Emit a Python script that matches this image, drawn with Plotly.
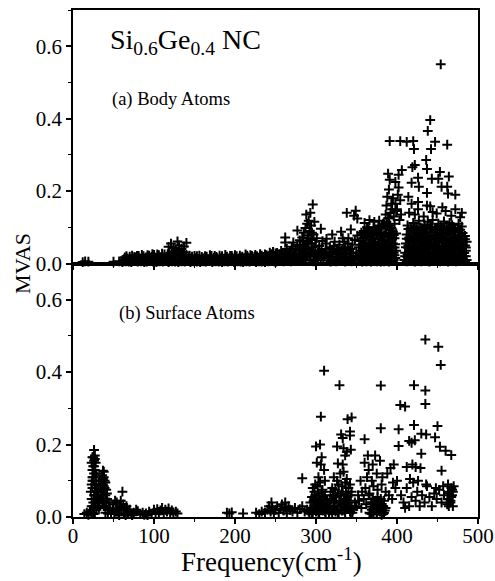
import plotly.graph_objects as go

# ---------------- Body atoms (panel a) ----------------
body_sparse_freq = [12, 15, 19, 50, 57]
body_sparse_mvas = [0.004, 0.006, 0.005, 0.005, 0.006]

body_band_lo_freq = [61, 65, 69, 72, 76, 80, 84, 88, 91, 95,
                     99, 103, 107, 111, 114, 118, 122, 126, 130, 134,
                     138, 141, 145, 149, 153, 157, 161, 164, 168, 172,
                     176, 180, 184, 187, 191, 195, 199, 203, 207, 210,
                     214, 218, 222, 226, 230, 233, 237, 241, 245, 249]
body_band_lo_mvas = [.004, .006, .005, .004, .007, .005, .006, .004, .005, .007,
                     .005, .004, .006, .005, .007, .004, .006, .005, .004, .006,
                     .005, .007, .004, .006, .005, .004, .006, .005, .007, .004,
                     .006, .005, .004, .006, .005, .007, .004, .006, .005, .004,
                     .006, .005, .007, .004, .006, .005, .004, .006, .007, .005]

body_band_x1_freq = [62, 66, 70, 74, 78, 82, 86, 90, 94, 98,
                     102, 106, 110, 114, 118, 122, 126, 130, 134, 138,
                     142, 146, 150, 154, 158, 162, 166, 170, 174, 178,
                     182, 186, 190, 194, 198, 202, 206, 210, 214, 218,
                     222, 226, 230, 234, 238, 242, 246, 250]
body_band_x1_mvas = [.010, .009, .011, .010, .012, .009, .010, .011, .012, .010,
                     .011, .012, .010, .011, .012, .013, .011, .012, .010, .011,
                     .010, .009, .011, .010, .009, .011, .010, .012, .009, .011,
                     .010, .012, .009, .011, .010, .012, .011, .009, .010, .012,
                     .011, .010, .012, .011, .013, .012, .014, .013]

body_band_mid_freq = [63, 67, 71, 74, 78, 82, 86, 90, 93, 97,
                      101, 105, 109, 112, 116, 120, 124, 128, 132, 136,
                      139, 143, 147, 151, 155, 159, 162, 166, 170, 174,
                      178, 182, 185, 189, 193, 197, 201, 205, 208, 212,
                      216, 220, 224, 228, 231, 235, 239, 243, 247, 251]
body_band_mid_mvas = [.012, .014, .013, .015, .016, .014, .015, .017, .016, .018,
                      .017, .016, .018, .017, .019, .020, .022, .024, .026, .022,
                      .018, .015, .014, .015, .013, .014, .015, .013, .014, .016,
                      .015, .014, .013, .015, .014, .016, .015, .014, .016, .015,
                      .017, .016, .018, .017, .019, .018, .020, .022, .021, .024]

body_band_x2_freq = [64, 70, 76, 81, 87, 94, 100, 106, 113, 119,
                     133, 140, 147, 153, 159, 165, 171, 177, 184, 190,
                     196, 202, 209, 215, 221, 227, 233, 239, 245, 250]
body_band_x2_mvas = [.017, .019, .018, .021, .020, .022, .024, .023, .025, .027,
                     .028, .024, .019, .020, .018, .019, .021, .018, .020, .019,
                     .021, .020, .019, .022, .021, .020, .022, .023, .026, .028]

body_band_hi_freq = [66, 73, 79, 85, 92, 98, 104, 110, 117, 122,
                     126, 131, 137, 144, 150, 156, 163, 169, 175, 181,
                     188, 194, 200, 206, 213, 219, 225, 231, 237, 243,
                     247, 252]
body_band_hi_mvas = [.020, .022, .021, .024, .023, .026, .025, .027, .026, .030,
                     .034, .036, .031, .022, .021, .022, .020, .023, .021, .022,
                     .024, .021, .023, .022, .025, .023, .024, .026, .025, .030,
                     .032, .029]

body_bump_freq = [118, 121, 124, 127, 129, 131, 134, 137, 140]
body_bump_mvas = [0.046, 0.055, 0.043, 0.038, 0.061, 0.050, 0.040, 0.047, 0.057]

body_rise_freq = [251, 253, 255, 256, 257, 259, 260, 261, 262, 262,
                  264, 265, 266, 268, 269, 270, 272, 273, 274, 275,
                  277, 277, 278, 279, 280, 282, 283, 283, 284, 285,
                  286, 287, 287, 288, 288, 289, 290, 290, 291, 292,
                  292, 293, 294, 294, 295, 296, 297, 297, 298, 299,
                  300, 301, 303, 306,
                  286, 289, 291, 293, 295, 296, 298, 284, 281, 276,
                  252, 254, 258, 263, 267, 271, 276, 281, 285, 289,
                  293, 297, 299, 258, 267, 279, 288, 291, 295, 284]
body_rise_mvas = [.005, .012, .026, .008, .035, .018, .006, .030, .058, .072,
                  .040, .009, .022, .034, .006, .046, .058, .028, .010, .040,
                  .091, .052, .007, .020, .064, .035, .072, .012, .048, .085,
                  .025, .098, .008, .135, .060, .110, .040, .078, .118, .090,
                  .010, .140, .065, .105, .030, .163, .080, .006, .115, .050,
                  .020, .070, .035, .096,
                  .045, .020, .055, .030, .085, .045, .025, .030, .050, .025,
                  .018, .010, .012, .016, .014, .020, .015, .025, .015, .030,
                  .022, .035, .012, .028, .025, .038, .020, .070, .055, .062]

body_mid_freq = [303, 305, 307, 309, 311, 312, 314, 316, 317, 319,
                 320, 321, 323, 324, 326, 327, 329, 330, 331, 332,
                 333, 334, 335, 336, 338, 338, 340, 341, 343, 343,
                 345, 346, 347, 348, 349, 350, 351, 351, 353, 313,
                 318, 325, 336, 344, 308, 322, 328, 339, 342, 304,
                 302, 306, 310, 313, 317, 321, 325, 329, 333, 337,
                 341, 345, 349, 304, 312, 320, 328, 336, 344, 352]
body_mid_mvas = [.010, .025, .040, .015, .030, .055, .008, .020, .045, .032,
                 .080, .012, .060, .025, .040, .010, .052, .020, .088, .035,
                 .070, .015, .060, .045, .140, .025, .070, .010, .094, .040,
                 .052, .020, .132, .065, .146, .030, .124, .077, .045, .068,
                 .005, .006, .005, .006, .062, .048, .028, .055, .018, .048,
                 .018, .012, .022, .040, .030, .018, .026, .012, .040, .014,
                 .035, .010, .020, .035, .025, .038, .042, .030, .028, .015]

body_c1_freq = [354, 356, 357, 359, 360, 362, 363, 365, 366, 368,
                369, 371, 372, 374, 375, 377, 378, 380, 381, 383,
                384, 386, 387, 389, 390, 392, 393, 395, 396, 398,
                355, 357, 358, 360, 361, 363, 364, 366, 367, 369,
                370, 372, 373, 375, 376, 378, 379, 381, 382, 384,
                385, 387, 388, 390, 391, 393, 394, 396, 397, 399,
                355, 358, 361, 364, 367, 370, 373, 376, 379, 382,
                385, 388, 391, 394, 397, 356, 359, 362, 365, 368,
                371, 374, 377, 380, 383, 386, 389, 392, 395, 360,
                366, 372, 378, 384, 390, 363, 375, 381, 387, 393]
body_c1_mvas = [.008, .015, .005, .020, .010, .006, .018, .008, .012, .005,
                .015, .007, .020, .010, .006, .016, .009, .005, .018, .011,
                .006, .014, .008, .019, .005, .012, .017, .007, .010, .015,
                .035, .028, .042, .033, .040, .030, .045, .036, .028, .041,
                .032, .044, .030, .038, .046, .034, .029, .043, .037, .031,
                .045, .036, .030, .042, .034, .046, .038, .030, .044, .035,
                .062, .070, .058, .075, .066, .072, .060, .078, .068, .064,
                .072, .060, .076, .066, .070, .085, .090, .080, .095, .088,
                .100, .092, .105, .098, .110, .096, .104, .092, .088, .112,
                .120, .115, .118, .108, .125, .100, .090, .102, .115, .098]

body_c1x_freq = [355, 358, 361, 364, 367, 370, 373, 376, 379, 382,
                 385, 388, 391, 394, 397,
                 356, 359, 362, 365, 368, 371, 374, 377, 380, 383,
                 386, 389, 392, 395, 398,
                 357, 360, 363, 366, 369, 372, 375, 378, 381, 384,
                 387, 390, 393, 396, 399]
body_c1x_mvas = [.022, .025, .020, .024, .022, .026, .021, .024, .023, .020,
                 .025, .022, .024, .021, .023,
                 .052, .055, .050, .054, .052, .056, .050, .053, .055, .051,
                 .054, .052, .050, .055, .053,
                 .080, .083, .078, .082, .080, .085, .079, .083, .081, .078,
                 .084, .080, .082, .079, .083]

body_col_freq = [387, 392, 393, 394, 395, 396, 397, 398, 399, 403,
                 404, 405, 389, 391, 386, 400, 402, 398]
body_col_mvas = [.160, .140, .165, .150, .180, .130, .110, .165, .145, .120,
                 .175, .135, .125, .105, .135, .150, .210, .225]

body_c2_freq = [409, 412, 414, 417, 419, 422, 424, 427, 430, 432,
                435, 437, 440, 442, 445, 448, 450, 453, 455, 458,
                460, 463, 466, 468, 471, 473, 476, 479, 481, 484, 486,
                410, 413, 415, 418, 420, 423, 426, 428, 431, 433,
                436, 439, 441, 444, 446, 449, 451, 454, 457, 459,
                462, 464, 467, 470, 472, 475, 477, 480, 483, 485,
                411, 414, 416, 419, 421, 424, 427, 429, 432, 434,
                437, 440, 442, 445, 447, 450, 452, 455, 458, 460,
                463, 465, 468, 471, 473, 476, 478, 481, 484, 486,
                412, 415, 418, 421, 423, 426, 429, 431, 434, 437,
                440, 443, 446, 449, 452, 455, 457, 460, 463, 466,
                469, 472, 475, 478, 481, 484,
                413, 417, 420, 424, 427, 431, 434, 438, 441, 444,
                448, 451, 454, 458, 461, 465, 468, 472, 476, 480,
                415, 422, 426, 433, 437, 444, 449, 456, 460, 467,
                472, 478, 418, 441]
body_c2_mvas = [.010, .006, .014, .008, .012, .005, .015, .009, .006, .013,
                .008, .011, .005, .014, .009, .007, .012, .006, .010, .015,
                .008, .005, .012, .009, .014, .006, .011, .008, .013, .007, .010,
                .030, .025, .036, .028, .034, .040, .026, .032, .038, .027,
                .035, .030, .040, .025, .033, .037, .029, .035, .026, .039,
                .031, .036, .028, .034, .040, .027, .033, .038, .029, .035,
                .055, .050, .062, .048, .058, .064, .052, .060, .047, .056,
                .063, .050, .058, .066, .052, .060, .048, .057, .064, .053,
                .059, .050, .062, .056, .048, .061, .054, .058, .050, .060,
                .080, .072, .088, .076, .085, .078, .090, .074, .082, .087,
                .075, .086, .079, .092, .074, .083, .088, .077, .085, .080,
                .090, .074, .086, .078, .084, .076,
                .105, .098, .112, .100, .118, .096, .108, .115, .102, .120,
                .098, .110, .104, .116, .100, .112, .106, .098, .110, .102,
                .140, .135, .150, .130, .160, .142, .138, .155, .145, .132,
                .150, .128, .165, .158]

body_c2x_freq = [410, 413, 416, 418, 421, 424, 426, 429, 432, 434,
                 437, 440, 443, 445, 448, 451, 453, 456, 459, 461,
                 464, 467, 469, 472, 475, 477, 480, 483, 485,
                 411, 414, 417, 420, 422, 425, 428, 431, 433, 436,
                 439, 441, 444, 447, 450, 452, 455, 458, 461, 463,
                 466, 469, 471, 474, 477, 479, 482, 485,
                 412, 415, 418, 421, 424, 427, 430, 433, 436, 439,
                 442, 445, 448, 451, 454, 457, 460, 463, 466, 469,
                 472, 475, 478, 481, 484,
                 414, 418, 422, 425, 429, 433, 436, 440, 443, 447,
                 450, 454, 457, 461, 464, 468, 471, 475, 478]
body_c2x_mvas = [.020, .018, .022, .019, .021, .020, .023, .018, .020, .022,
                 .019, .021, .020, .018, .022, .020, .019, .023, .021, .018,
                 .020, .022, .019, .021, .020, .023, .019, .021, .020,
                 .045, .043, .047, .044, .046, .042, .045, .048, .044, .046,
                 .043, .047, .045, .042, .046, .044, .047, .043, .045, .048,
                 .044, .046, .043, .047, .045, .042, .046, .044,
                 .068, .066, .070, .067, .069, .072, .066, .068, .071, .067,
                 .069, .070, .066, .068, .072, .067, .069, .066, .070, .068,
                 .067, .071, .066, .069, .067,
                 .095, .092, .098, .094, .100, .093, .097, .096, .099, .094,
                 .097, .093, .100, .095, .092, .098, .094, .096, .093]

body_out_freq = [454, 441, 438, 391, 404, 412, 420, 421, 447, 442,
                 462, 436, 422, 419, 437, 453, 406, 389, 402, 464,
                 443, 451, 391, 426, 418, 427, 455, 462, 472, 463,
                 390, 401, 437, 414, 426, 480, 388]
body_out_mvas = [.550, .396, .366, .338, .338, .336, .338, .316, .336, .316,
                 .328, .286, .272, .266, .261, .253, .258, .248, .245, .240,
                 .234, .234, .231, .237, .223, .212, .212, .212, .190, .193,
                 .204, .190, .195, .184, .170, .140, .184]

# ---------------- Surface atoms (panel b) ----------------
surf_p1_freq = [14, 17, 19, 21, 23, 24, 25, 26, 24, 25,
                26, 25, 26, 25, 26, 27, 28, 27, 28, 27,
                28, 27, 28, 29, 23, 23, 22, 23, 24, 24,
                23, 24, 29, 29, 29, 30, 30, 26, 27, 25,
                25, 26, 27, 24, 28, 26, 25, 27]
surf_p1_mvas = [.008, .012, .006, .015, .010, .020, .040, .060, .080, .100,
                .120, .140, .155, .165, .185, .170, .150, .130, .110, .090,
                .070, .050, .030, .020, .030, .050, .070, .090, .110, .130,
                .150, .165, .050, .090, .120, .030, .070, .025, .010, .008,
                .030, .050, .080, .100, .060, .140, .110, .160]

surf_p2_freq = [32, 33, 34, 33, 35, 36, 37, 38, 37, 36,
                35, 38, 39, 40, 39, 40, 41, 42, 41, 43,
                44, 42, 34, 31, 32, 38, 43, 40, 45, 31,
                36, 37, 38, 39, 35, 34, 37, 40]
surf_p2_mvas = [.025, .045, .060, .080, .100, .115, .128, .110, .090, .070,
                .050, .030, .040, .060, .080, .095, .075, .050, .030, .020,
                .040, .065, .100, .060, .090, .125, .010, .012, .025, .040,
                .045, .060, .085, .100, .085, .075, .105, .045]

surf_p3_freq = [61, 47, 49, 50, 52, 54, 55, 56, 58, 59,
                60, 62, 63, 64, 66, 67, 68, 70, 51, 53,
                57, 65, 72]
surf_p3_mvas = [.070, .010, .020, .035, .045, .040, .025, .010, .030, .045,
                .020, .035, .010, .025, .030, .015, .008, .020, .008, .015,
                .005, .005, .010]

surf_band_freq = [73, 75, 78, 80, 83, 86, 88, 90, 92, 94,
                  97, 100, 102, 104, 106, 108, 110, 112, 114, 116,
                  118, 120, 122, 124, 127, 129]
surf_band_mvas = [.005, .012, .020, .016, .008, .012, .006, .010, .005, .015,
                  .008, .020, .012, .022, .008, .018, .025, .012, .020, .015,
                  .024, .010, .018, .012, .015, .010]

surf_rise_freq = [190, 193, 196, 210, 226, 230, 233, 237, 240, 242,
                  244, 246, 248, 250, 252, 254, 256, 258, 260, 262,
                  264, 266, 268, 271, 274, 277, 280, 283, 286, 289,
                  245, 262]
surf_rise_mvas = [.012, .010, .013, .010, .012, .008, .015, .012, .020, .030,
                  .015, .025, .010, .020, .030, .012, .022, .035, .018, .025,
                  .010, .030, .020, .015, .025, .012, .022, .030, .015, .020,
                  .040, .040]

surf_up_freq = [435, 451, 454, 310, 329, 380, 421, 435, 435, 404,
                410, 306, 339, 344, 380, 402, 421, 450, 342, 342,
                331, 333, 430, 436, 447, 360, 415, 418, 422, 305,
                300, 326, 334, 402, 453, 460, 467, 343, 338, 336,
                364, 373, 430, 307, 360, 379, 370, 301, 306, 310,
                327, 333, 396, 392, 412, 419, 423, 429, 455, 283]
surf_up_mvas = [.490, .470, .420, .404, .364, .363, .364, .349, .312, .309,
                .305, .277, .270, .275, .245, .242, .254, .251, .236, .225,
                .228, .218, .230, .228, .220, .215, .210, .205, .212, .200,
                .195, .195, .190, .196, .194, .183, .171, .186, .180, .170,
                .170, .170, .175, .165, .150, .155, .145, .150, .145, .130,
                .148, .145, .145, .135, .138, .145, .138, .135, .128, .107]

surf_r1_freq = [292, 294, 296, 298, 300, 302, 304, 306, 308, 310,
                312, 314, 293, 295, 297, 299, 301, 303, 305, 307,
                309, 311, 313, 296, 299, 302, 305, 308, 311, 303,
                300, 306, 298, 304, 309]
surf_r1_mvas = [.010, .020, .008, .030, .015, .025, .008, .035, .018, .028,
                .012, .022, .040, .055, .045, .060, .050, .065, .045, .070,
                .055, .060, .048, .080, .090, .085, .095, .075, .100, .110,
                .035, .040, .070, .032, .038]

surf_r2_freq = [316, 318, 320, 322, 324, 326, 328, 330, 332, 334,
                336, 338, 340, 342, 344, 346, 317, 319, 321, 323,
                325, 327, 329, 331, 333, 335, 337, 339, 341, 343,
                320, 324, 328, 332, 336, 340, 344, 322, 330, 338,
                326, 334, 342, 318, 348]
surf_r2_mvas = [.012, .025, .008, .030, .015, .020, .010, .028, .018, .035,
                .012, .022, .030, .015, .025, .020, .045, .050, .060, .040,
                .055, .065, .045, .060, .070, .050, .065, .055, .045, .060,
                .080, .075, .090, .085, .095, .080, .070, .110, .120, .105,
                .100, .125, .090, .070, .040]

surf_r3_freq = [350, 353, 356, 359, 362, 365, 367, 369, 371, 373,
                375, 377, 379, 381, 383, 385, 368, 370, 372, 374,
                376, 378, 380, 382, 384, 352, 357, 361, 366, 371,
                376, 381, 386, 390, 394, 398, 355, 363, 369, 375,
                382, 388, 395, 400, 365]
surf_r3_mvas = [.030, .045, .025, .050, .035, .060, .010, .020, .008, .025,
                .012, .030, .015, .022, .008, .018, .040, .050, .035, .045,
                .055, .040, .050, .030, .045, .060, .070, .080, .065, .085,
                .075, .090, .070, .060, .050, .080, .100, .110, .100, .120,
                .110, .120, .095, .100, .130]

surf_r4_freq = [405, 408, 412, 415, 418, 420, 423, 425, 428, 431,
                434, 437, 440, 443, 446, 449, 452, 455, 458, 462,
                463, 464, 465, 466, 467, 468, 469, 470, 463, 466,
                468, 464, 467, 469, 410, 426, 436, 448, 457, 416]
surf_r4_mvas = [.060, .040, .080, .030, .055, .095, .045, .070, .030, .060,
                .040, .085, .055, .030, .065, .050, .075, .040, .060, .035,
                .090, .050, .070, .040, .080, .060, .030, .085, .065, .045,
                .075, .030, .055, .070, .025, .100, .090, .080, .085, .105]

surf_r5_freq = [291, 295, 299, 303, 307, 311, 315, 319, 323, 327,
                331, 335, 339, 343, 297, 305, 313, 321, 329, 337,
                345, 366, 369, 372, 375, 378, 381, 384, 368, 374,
                380, 386, 370, 377, 383]
surf_r5_mvas = [.015, .012, .020, .010, .025, .015, .030, .018, .040, .012,
                .035, .018, .030, .012, .025, .020, .035, .022, .040, .035,
                .012, .012, .008, .018, .010, .020, .006, .012, .028, .025,
                .030, .025, .040, .035, .030]

x_tick_vals = [0, 100, 200, 300, 400, 500]
x_tick_text = ["0", "100", "200", "300", "400", "500"]
y_tick_vals = [0.0, 0.2, 0.4, 0.6]
y_tick_text = ["0.0", "0.2", "0.4", "0.6"]

body_freq = (body_sparse_freq + body_band_lo_freq + body_band_x1_freq + body_band_mid_freq
             + body_band_x2_freq + body_band_hi_freq + body_bump_freq + body_rise_freq
             + body_mid_freq + body_c1_freq + body_c1x_freq + body_col_freq
             + body_c2_freq + body_c2x_freq + body_out_freq)
body_mvas = (body_sparse_mvas + body_band_lo_mvas + body_band_x1_mvas + body_band_mid_mvas
             + body_band_x2_mvas + body_band_hi_mvas + body_bump_mvas + body_rise_mvas
             + body_mid_mvas + body_c1_mvas + body_c1x_mvas + body_col_mvas
             + body_c2_mvas + body_c2x_mvas + body_out_mvas)
surf_freq = (surf_p1_freq + surf_p2_freq + surf_p3_freq + surf_band_freq + surf_rise_freq
             + surf_up_freq + surf_r1_freq + surf_r2_freq + surf_r3_freq + surf_r4_freq
             + surf_r5_freq)
surf_mvas = (surf_p1_mvas + surf_p2_mvas + surf_p3_mvas + surf_band_mvas + surf_rise_mvas
             + surf_up_mvas + surf_r1_mvas + surf_r2_mvas + surf_r3_mvas + surf_r4_mvas
             + surf_r5_mvas)
assert len(body_freq) == len(body_mvas) and len(surf_freq) == len(surf_mvas)

FONT = "Liberation Serif, Times New Roman, serif"
marker = dict(symbol="cross-thin", size=7, color="black",
              line=dict(width=2.0, color="black"))

fig = go.Figure()
fig.add_trace(go.Scatter(x=body_freq, y=body_mvas, mode="markers", marker=marker,
                         xaxis="x", yaxis="y", cliponaxis=False, hoverinfo="skip"))
fig.add_trace(go.Scatter(x=surf_freq, y=surf_mvas, mode="markers", marker=marker,
                         xaxis="x2", yaxis="y2", cliponaxis=False, hoverinfo="skip"))

common_x = dict(range=[0, 500], showline=True, linecolor="black", linewidth=1.5,
                mirror=True, showgrid=False, zeroline=False, ticks="outside",
                ticklen=5, tickwidth=1.5, tickcolor="black", automargin=False,
                tickvals=x_tick_vals, ticktext=x_tick_text,
                minor=dict(dtick=50, tick0=0, ticklen=3, tickwidth=1.2,
                           ticks="outside", tickcolor="black"),
                tickfont=dict(family=FONT, size=21, color="black"))
common_y = dict(range=[0, 0.7], showline=True, linecolor="black", linewidth=1.5,
                mirror=True, showgrid=False, zeroline=False, ticks="outside",
                ticklen=5, tickwidth=1.5, tickcolor="black", automargin=False,
                tickvals=y_tick_vals, ticktext=y_tick_text,
                minor=dict(dtick=0.1, tick0=0, ticklen=3, tickwidth=1.2,
                           ticks="outside", tickcolor="black"),
                tickfont=dict(family=FONT, size=21, color="black"))

fig.update_layout(
    width=495, height=581,
    margin=dict(l=73, r=17, t=10, b=64, autoexpand=False),
    paper_bgcolor="white", plot_bgcolor="white",
    showlegend=False,
    xaxis=dict(common_x, domain=[0, 1], anchor="y", showticklabels=False),
    yaxis=dict(common_y, domain=[0.5, 1], anchor="x"),
    xaxis2=dict(common_x, domain=[0, 1], anchor="y2", ticklabelstandoff=-6),
    yaxis2=dict(common_y, domain=[0, 0.5], anchor="x2"),
    annotations=[
        dict(text="Si<sub>0.6</sub>Ge<sub>0.4</sub> NC", xref="x", yref="y",
             x=43, y=0.612, xanchor="left", yanchor="middle", showarrow=False,
             font=dict(family=FONT, size=28, color="black")),
        dict(text="(a) Body Atoms", xref="x", yref="y", x=45.5, y=0.454,
             xanchor="left", yanchor="middle", showarrow=False,
             font=dict(family=FONT, size=18.5, color="black")),
        dict(text="(b) Surface Atoms", xref="x2", yref="y2", x=54, y=0.563,
             xanchor="left", yanchor="middle", showarrow=False,
             font=dict(family=FONT, size=18.5, color="black")),
        dict(text="MVAS", xref="paper", yref="paper", x=-0.125, y=0.5,
             xanchor="center", yanchor="middle", textangle=-90, showarrow=False,
             font=dict(family=FONT, size=22, color="black")),
        dict(text="Frequency(cm<sup>-1</sup>)", xref="paper", yref="paper",
             x=0.489, y=-0.047, xanchor="center", yanchor="top", showarrow=False,
             font=dict(family=FONT, size=27, color="black")),
    ],
)

fig.write_html("out.html")
